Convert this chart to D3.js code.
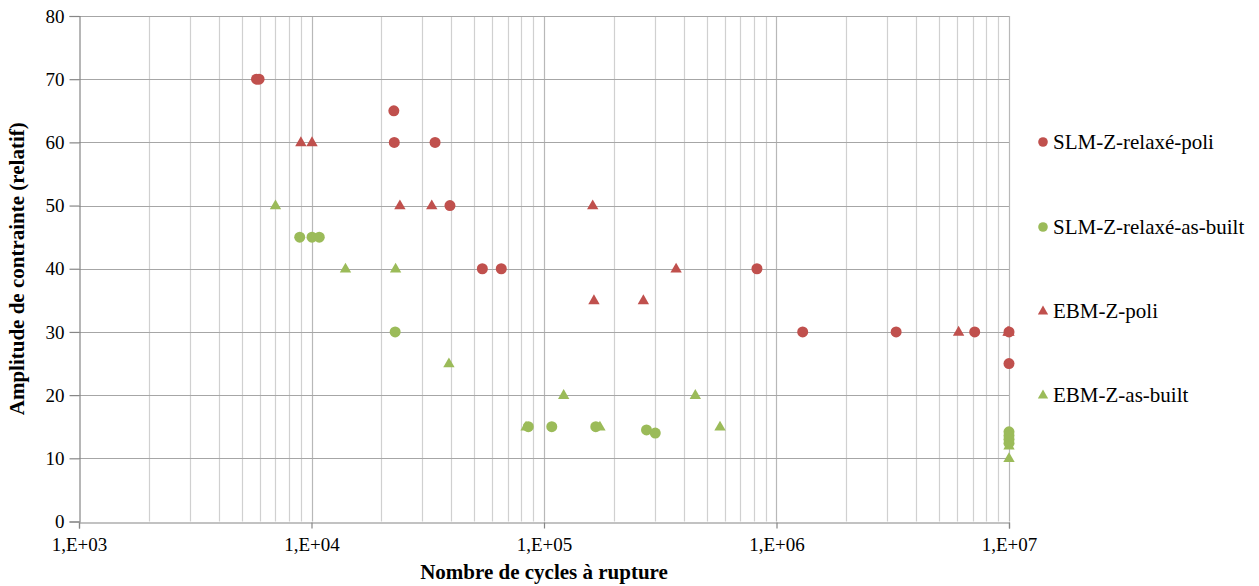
<!DOCTYPE html>
<html><head><meta charset="utf-8">
<script src="https://cdn.jsdelivr.net/npm/d3@7/dist/d3.min.js"></script>
<style>body{margin:0;background:#fff;}</style>
</head><body>
<svg id="c" width="1259" height="586" font-family="Liberation Serif"></svg>
<script>
const seriesNames = ["SLM-Z-relaxé-poli","SLM-Z-relaxé-as-built","EBM-Z-poli","EBM-Z-as-built"];
const seriesColors = ["#c0504d","#9bbb59","#c0504d","#9bbb59"];
const seriesShapes = ["circle","circle","triangle","triangle"];

const slmPoliN = [5800,5950,22600,22700,34000,39400,54300,65500,824000,1296000,3270000,7120000,10000000,10000000];
const slmPoliS = [70,70,65,60,60,50,40,40,40,30,30,30,30,25];

const slmBuiltN = [8900,10050,10800,22900,85600,108000,167000,276000,301000,10000000,10000000,10000000,10000000];
const slmBuiltS = [45,45,45,30,15,15,15,14.5,14,14.2,13.6,13,12.4];

const ebmPoliN = [9000,10050,24000,32900,162000,370000,164000,267500,6070000,9900000,10000000];
const ebmPoliS = [60,60,50,50,50,40,35,35,30,30,30];

const ebmBuiltN = [7000,14000,23000,39000,121500,83700,174000,447600,571500,10000000,10000000];
const ebmBuiltS = [50,40,40,25,20,15,15,20,15,12,10];

const xTickLabels = ["1,E+03","1,E+04","1,E+05","1,E+06","1,E+07"];
const yTicks = [0,10,20,30,40,50,60,70,80];

const series = [
  {N: slmPoliN, S: slmPoliS},
  {N: slmBuiltN, S: slmBuiltS},
  {N: ebmPoliN, S: ebmPoliS},
  {N: ebmBuiltN, S: ebmBuiltS}
];

const FONT = "Liberation Serif";
const svg = d3.select("#c");
const L = 79, R = 1009, T = 16, B = 521.5;
const x = d3.scaleLog().domain([1e3,1e7]).range([L,R]);
const y = d3.scaleLinear().domain([0,80]).range([B,T]);

// minor vertical grid
const minor = [];
for (let d = 1e3; d < 1e7; d *= 10) for (let k = 2; k <= 9; k++) minor.push(d*k);
svg.append("g").selectAll("line").data(minor).join("line")
  .attr("x1", d=>Math.round(x(d))+0.5).attr("x2", d=>Math.round(x(d))+0.5)
  .attr("y1", T).attr("y2", B).attr("stroke","#d0d0d0").attr("stroke-width",1.2);
// major vertical grid
svg.append("g").selectAll("line").data([1e4,1e5,1e6,1e7]).join("line")
  .attr("x1", d=>Math.round(x(d))+0.5).attr("x2", d=>Math.round(x(d))+0.5)
  .attr("y1", T).attr("y2", B).attr("stroke","#b8b8b8").attr("stroke-width",1.2);
// horizontal grid
svg.append("g").selectAll("line").data(yTicks.filter(v=>v>0)).join("line")
  .attr("x1", L).attr("x2", R).attr("y1", d=>Math.round(y(d))+0.5).attr("y2", d=>Math.round(y(d))+0.5)
  .attr("stroke","#a6a6a6").attr("stroke-width",1.2);

// axes
const yAxis = d3.axisLeft(y).tickValues(yTicks).tickSize(10).tickPadding(5).tickFormat(d3.format("d"));
const gy = svg.append("g").attr("transform",`translate(${L+0.5},0)`).call(yAxis);
const xAxis = d3.axisBottom(x).tickValues([1e3,1e4,1e5,1e6,1e7]).tickSize(6).tickPadding(9)
  .tickFormat((d,i)=>xTickLabels[i]);
const gx = svg.append("g").attr("transform",`translate(0,${Math.round(B)+0.5})`).call(xAxis);
[gx,gy].forEach(g=>{
  g.attr("font-family",FONT).attr("font-size",19);
  g.selectAll("path").attr("stroke","#868686").attr("stroke-width",1.2);
  g.selectAll("line").attr("stroke","#868686").attr("stroke-width",1.2);
  g.selectAll("text").attr("font-family",FONT).attr("font-size",19).attr("fill","#000");
});

// markers
const triSym = d3.symbol().type(d3.symbolTriangle).size(56);
series.forEach((s,i)=>{
  const pts = s.N.map((n,j)=>({n, v:s.S[j]}));
  const g = svg.append("g");
  if (seriesShapes[i]==="circle") {
    g.selectAll("circle").data(pts).join("circle")
      .attr("cx", d=>x(d.n)).attr("cy", d=>y(d.v)).attr("r",5.5).attr("fill",seriesColors[i]);
  } else {
    g.selectAll("path").data(pts).join("path")
      .attr("d", triSym).attr("transform", d=>`translate(${x(d.n)},${y(d.v)+0.5})`).attr("fill",seriesColors[i]);
  }
});

// axis titles
svg.append("text").attr("x",(L+R)/2).attr("y",579).attr("text-anchor","middle").attr("font-family",FONT)
  .attr("font-weight","bold").attr("font-size",21).text("Nombre de cycles à rupture");
svg.append("text").attr("transform",`translate(24,${(T+B)/2}) rotate(-90)`).attr("text-anchor","middle").attr("font-family",FONT)
  .attr("font-weight","bold").attr("font-size",21).text("Amplitude de contrainte (relatif)");

// legend
const legY = [142,227,311,395];
const lg = svg.append("g");
seriesNames.forEach((name,i)=>{
  if (seriesShapes[i]==="circle") {
    lg.append("circle").attr("cx",1043).attr("cy",legY[i]).attr("r",4.8).attr("fill",seriesColors[i]);
  } else {
    lg.append("path").attr("d", d3.symbol().type(d3.symbolTriangle).size(46)).attr("transform",`translate(1043,${legY[i]+0.5})`).attr("fill",seriesColors[i]);
  }
  lg.append("text").attr("x",1053).attr("y",legY[i]+6.5).attr("font-family",FONT).attr("font-size",21).text(name);
});
</script>
</body></html>
